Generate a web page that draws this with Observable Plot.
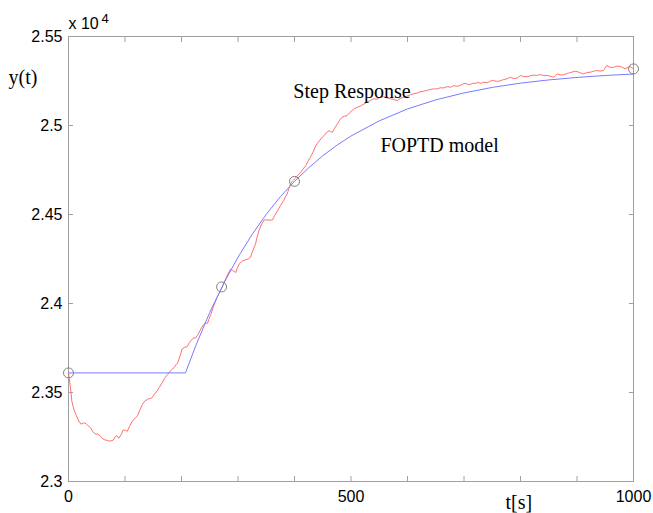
<!DOCTYPE html>
<html><head><meta charset="utf-8">
<script src="https://cdn.jsdelivr.net/npm/d3@7"></script>
<script src="https://cdn.jsdelivr.net/npm/@observablehq/plot@0.6"></script>
<style>body{margin:0;background:#fff}</style>
</head><body><div id="chart"></div>
<script>
// Measured step response (red)
const stepT = [0,3,6,10,14,18,22,27,31,35,39,43,47,51,55,59,63,67,71,75,79,83,86,89,93,97,101,104,108,113,117,122,126,131,135,140,144,148,152,157,161,166,170,175,179,183,187,190,193,197,201,206,210,214,219,222,225,228,231,235,240,243,246,249,252,257,260,263,267,272,278,282,287,291,296,299,302,308,313,318,322,326,331,334,337,341,346,350,355,361,365,370,375,381,384,387,390,393,397,402,406,411,415,420,424,428,432,436,440,445,452,456,461,464,467,471,476,480,484,488,493,497,502,506,511,517,523,528,534,540,546,552,558,564,570,576,582,587,593,599,605,611,617,623,629,635,640,646,652,658,664,670,676,682,688,694,699,702,706,711,716,720,725,729,735,741,745,750,755,760,764,770,776,782,788,794,800,805,811,817,823,829,835,841,847,853,859,865,870,876,881,885,891,897,903,908,912,918,923,929,935,941,947,953,959,965,971,977,981,985,990,994,1000];
const stepY = [23610,23540,23450,23400,23370,23340,23322,23330,23325,23312,23303,23280,23268,23266,23260,23245,23235,23232,23228,23228,23232,23252,23258,23243,23262,23290,23286,23282,23310,23340,23352,23369,23400,23434,23452,23462,23466,23471,23490,23509,23530,23556,23580,23600,23615,23630,23640,23655,23665,23700,23744,23755,23757,23780,23800,23808,23806,23820,23837,23862,23884,23890,23888,23915,23940,23987,24010,24034,24060,24090,24137,24165,24194,24185,24174,24200,24222,24240,24245,24250,24259,24295,24334,24375,24409,24440,24469,24470,24468,24469,24495,24521,24550,24578,24600,24615,24645,24672,24690,24705,24720,24737,24755,24775,24800,24821,24845,24875,24897,24918,24943,24958,24971,24966,24962,24985,25009,25030,25046,25052,25056,25070,25084,25095,25102,25110,25121,25130,25140,25150,25148,25159,25162,25155,25150,25146,25140,25152,25159,25165,25172,25178,25182,25190,25193,25198,25202,25206,25205,25212,25211,25218,25215,25224,25220,25226,25234,25237,25232,25230,25238,25236,25242,25237,25243,25240,25247,25253,25250,25248,25251,25258,25262,25271,25264,25266,25281,25275,25274,25279,25283,25281,25286,25280,25281,25277,25271,25290,25284,25284,25291,25294,25300,25305,25300,25293,25290,25298,25299,25304,25309,25306,25309,25337,25326,25327,25334,25331,25326,25318,25326,25331,25318];
// FOPTD model (blue)
const modelT = [0,207,225,250,275,300,325,350,375,400,425,450,475,500,550,600,650,700,750,800,850,900,950,1000];
const modelY = [23610,23610,23761,23950,24115,24260,24388,24501,24600,24686,24762,24830,24889,24941,25026,25093,25144,25183,25214,25238,25256,25270,25281,25289];
// identification points (circles)
const markT = [0,271,400,1000];
const markY = [23610,24093,24686,25318];
// annotations
const annoT = [398,552];
const annoY = [25157,24853];
const annoText = ["Step Response","FOPTD model"];
// ticks
const xTicks = [0,100,200,300,400,500,600,700,800,900,1000];
const xLabelTicks = [0,500,1000];
const xTickLabels = ["0","500","1000"];
const yTicks = [23000,23500,24000,24500,25000,25500];
const yTickLabels = ["2.3","2.35","2.4","2.45","2.5","2.55"];

const step = stepT.map((t,i)=>({t, y: stepY[i]}));
const model = modelT.map((t,i)=>({t, y: modelY[i]}));
const pts = markT.map((t,i)=>({t, y: markY[i]}));
const anno = annoT.map((t,i)=>({t, y: annoY[i], s: annoText[i]}));
const axisCol = "#a0a0a0";
const serif = "Liberation Serif, Times New Roman, serif";

const chart = Plot.plot({
  width: 653, height: 513,
  marginLeft: 68, marginRight: 20, marginTop: 36, marginBottom: 32,
  x: {domain: [0, 1000]},
  y: {domain: [23000, 25500]},
  style: {background: "#fff", fontFamily: "Liberation Sans, Arial, sans-serif", fontSize: "16px", color: "#000", overflow: "visible"},
  marks: [
    Plot.frame({stroke: axisCol}),
    Plot.axisX(xTicks, {anchor: "bottom", tickSize: 5, dy: -5, fill: "none", stroke: axisCol, label: null, tickFormat: () => ""}),
    Plot.axisX(xTicks, {anchor: "top", tickSize: 5, dy: 5, fill: "none", stroke: axisCol, label: null, tickFormat: () => ""}),
    Plot.axisY(yTicks, {anchor: "left", tickSize: 5, dx: 5, fill: "none", stroke: axisCol, label: null, tickFormat: () => ""}),
    Plot.axisY(yTicks, {anchor: "right", tickSize: 5, dx: -5, fill: "none", stroke: axisCol, label: null, tickFormat: () => ""}),
    Plot.axisX(xLabelTicks, {anchor: "bottom", tickSize: 0, tickPadding: 9, label: null, fill: "#000", tickFormat: d => xTickLabels[xLabelTicks.indexOf(d)]}),
    Plot.axisY(yTicks, {anchor: "left", tickSize: 0, tickPadding: 6, label: null, fill: "#000", tickFormat: d => yTickLabels[yTicks.indexOf(d)]}),
    Plot.line(step, {x: "t", y: "y", stroke: "#ff7070", strokeWidth: 1}),
    Plot.line(model, {x: "t", y: "y", stroke: "#7a7aff", strokeWidth: 1}),
    Plot.dot(pts, {x: "t", y: "y", r: 5, stroke: "#808080", fill: "none", strokeWidth: 1}),
    Plot.text(anno, {x: "t", y: "y", text: "s", textAnchor: "start", lineAnchor: "bottom", fontFamily: serif, fontSize: 20, fill: "#000"}),
    Plot.text(["y(t)"], {frameAnchor: "top-left", dx: -60, dy: 47, textAnchor: "start", lineAnchor: "bottom", fontFamily: serif, fontSize: 20, fill: "#000"}),
    Plot.text(["t[s]"], {frameAnchor: "bottom-left", dx: 437, dy: 27, textAnchor: "start", lineAnchor: "bottom", fontFamily: serif, fontSize: 20, fill: "#000"}),
    Plot.text(["x 10"], {frameAnchor: "top-left", dx: 0, dy: -8, textAnchor: "start", lineAnchor: "bottom", fontSize: 16, fill: "#000"}),
    Plot.text(["4"], {frameAnchor: "top-left", dx: 33, dy: -14, textAnchor: "start", lineAnchor: "bottom", fontSize: 13, fill: "#000"})
  ]
});
document.getElementById("chart").appendChild(chart);
</script>
</body></html>
